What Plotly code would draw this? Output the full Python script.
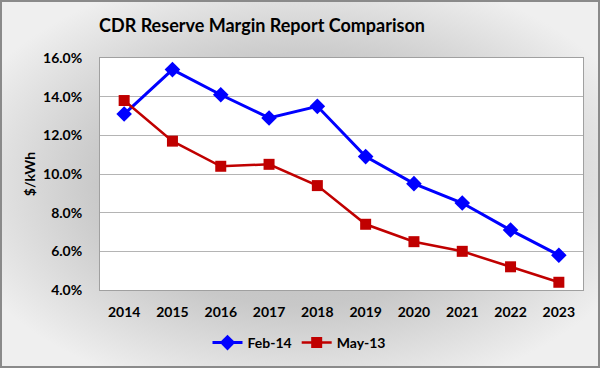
import base64
import plotly.graph_objects as go

years = ["2014", "2015", "2016", "2017", "2018", "2019", "2020", "2021", "2022", "2023"]
feb14 = [0.131, 0.154, 0.141, 0.129, 0.135, 0.109, 0.095, 0.085, 0.071, 0.058]
may13 = [0.138, 0.117, 0.104, 0.105, 0.094, 0.074, 0.065, 0.060, 0.052, 0.044]
y_ticks = [0.04, 0.06, 0.08, 0.10, 0.12, 0.14, 0.16]

W, H = 600, 368
FONT = "Lato"
PL, PR, PT, PB = 100, 583, 58, 290

svg = f'''<svg xmlns="http://www.w3.org/2000/svg" width="{W}" height="{H}" viewBox="0 0 {W} {H}">
<defs><radialGradient id="g" cx="50%" cy="50%" r="60%">
<stop offset="0%" stop-color="#b8b8b8"/>
<stop offset="55%" stop-color="#c8c8c8"/>
<stop offset="100%" stop-color="#efefef"/>
</radialGradient></defs>
<rect x="0" y="0" width="{W}" height="{H}" fill="url(#g)"/>
<rect x="1" y="1" width="{W-2}" height="{H-2}" fill="none" stroke="#8a8a8a" stroke-width="2"/>
<rect x="{PL}" y="{PT}" width="{PR-PL}" height="{PB-PT}" fill="#ffffff"/>
</svg>'''
bg_uri = "data:image/svg+xml;base64," + base64.b64encode(svg.encode()).decode()

fig = go.Figure()
fig.add_trace(go.Scatter(
    x=years, y=feb14, name="Feb-14", mode="lines+markers",
    line=dict(color="#0000ff", width=3),
    marker=dict(symbol="diamond", size=12, color="#0000ff"),
))
fig.add_trace(go.Scatter(
    x=years, y=may13, name="May-13", mode="lines+markers",
    line=dict(color="#c00000", width=2.5),
    marker=dict(symbol="square", size=11, color="#c00000"),
))

x0, x1 = PL / W, PR / W
y0, y1 = 1 - PB / H, 1 - PT / H

fig.update_layout(
    width=W, height=H,
    margin=dict(l=0, r=0, t=0, b=0, autoexpand=False),
    paper_bgcolor="#d4d4d4",
    plot_bgcolor="rgba(0,0,0,0)",
    font=dict(family=FONT, size=14, color="#000000"),
    images=[dict(source=bg_uri, xref="paper", yref="paper", x=0, y=1,
                 sizex=1, sizey=1, xanchor="left", yanchor="top",
                 sizing="stretch", layer="below")],
    title=dict(text="<b>CDR Reserve Margin Report Comparison</b>",
               x=262 / W, xanchor="center", y=1 - 26 / H, yanchor="middle",
               font=dict(family=FONT, size=18, color="#000000")),
    xaxis=dict(domain=[x0, x1], type="category", range=[-0.5, 9.5], automargin=False,
               showgrid=False, showline=True, linecolor="#a0a0a0", linewidth=1,
               mirror=True, ticks="", tickfont=dict(family=FONT, size=14, weight="bold"),
               ticklabelstandoff=9),
    yaxis=dict(domain=[y0, y1], range=[0.04, 0.16], tickvals=y_ticks, automargin=False,
               tickformat=".1%", showgrid=True, gridcolor="#b4b4b4", gridwidth=1,
               showline=True, linecolor="#a0a0a0", linewidth=1, mirror=True,
               ticks="", zeroline=False,
               tickfont=dict(family=FONT, size=14, weight="bold"),
               ticklabelstandoff=14,
               title=dict(text="<b>$/kWh</b>", font=dict(family=FONT, size=14),
                          standoff=4)),
    showlegend=True,
    legend=dict(orientation="h", x=299 / W, xanchor="center", y=1 - 343 / H,
                yanchor="middle", bgcolor="rgba(0,0,0,0)",
                font=dict(family=FONT, size=14, weight="bold"),
                itemwidth=30, tracegroupgap=0),
)

fig.write_html("out.html", config={"displayModeBar": False},
               post_script="document.body.style.margin='0';")
